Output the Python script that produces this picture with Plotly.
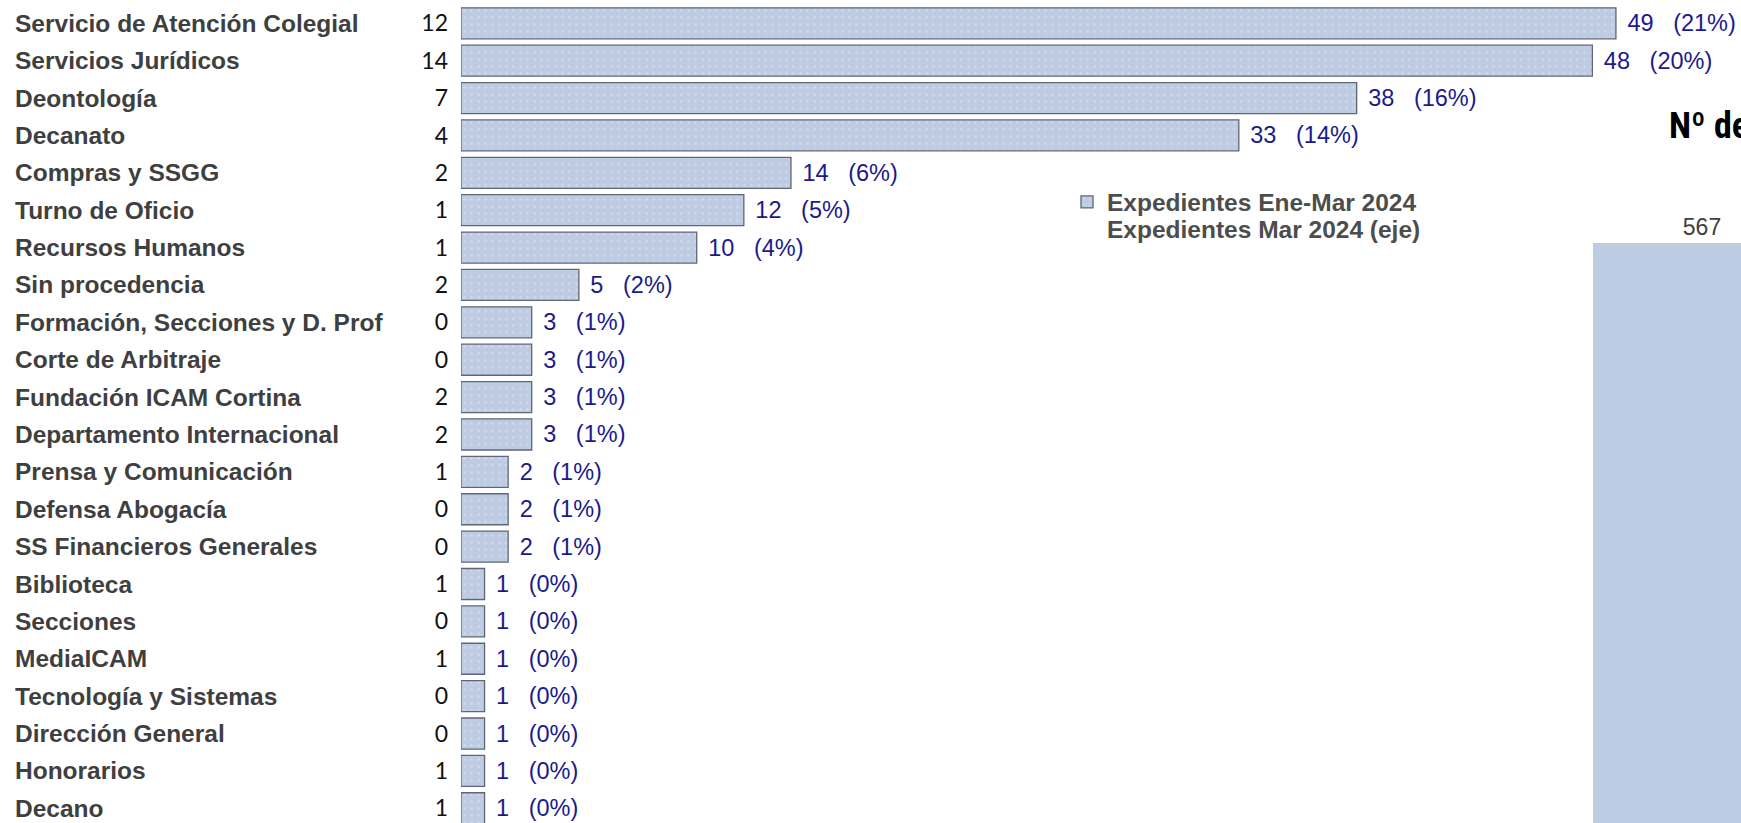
import plotly.graph_objects as go

# ---------------- data ----------------
categories = [
    "Servicio de Atención Colegial", "Servicios Jurídicos", "Deontología", "Decanato",
    "Compras y SSGG", "Turno de Oficio", "Recursos Humanos", "Sin procedencia",
    "Formación, Secciones y D. Prof", "Corte de Arbitraje", "Fundación ICAM Cortina",
    "Departamento Internacional", "Prensa y Comunicación", "Defensa Abogacía",
    "SS Financieros Generales", "Biblioteca", "Secciones", "MediaICAM",
    "Tecnología y Sistemas", "Dirección General", "Honorarios", "Decano",
]
expedientes_ene_mar = [49, 48, 38, 33, 14, 12, 10, 5, 3, 3, 3, 3, 2, 2, 2, 1, 1, 1, 1, 1, 1, 1]
expedientes_mar = [12, 14, 7, 4, 2, 1, 1, 2, 0, 0, 2, 2, 1, 0, 0, 1, 0, 1, 0, 0, 1, 1]
porcentajes = [21, 20, 16, 14, 6, 5, 4, 2, 1, 1, 1, 1, 1, 1, 1, 0, 0, 0, 0, 0, 0, 0]
total_label = ["Total"]
total_expedientes = [567]

# ---------------- layout constants ----------------
W, H = 1741, 823
NB = "\u00a0"
BAR_FILL = "#BDCCE2"
BAR_LINE = "#5F6776"

value_text = [f"{NB}\u200a{v}{NB*3}({p}%)" for v, p in zip(expedientes_ene_mar, porcentajes)]
mar_axis_text = [str(v) for v in expedientes_mar]

fig = go.Figure()

fig.add_trace(go.Bar(
    name="Expedientes Ene-Mar 2024",
    y=categories, x=expedientes_ene_mar, orientation="h",
    xaxis="x", yaxis="y", width=0.83,
    marker=dict(color=BAR_FILL, line=dict(color=BAR_LINE, width=1.3),
                pattern=dict(shape=".", fgcolor="white", bgcolor=BAR_FILL,
                             size=7, solidity=0.1, fgopacity=0.3)),
    text=value_text, textposition="outside", cliponaxis=False,
    textfont=dict(family="Liberation Sans, Arial, sans-serif", size=23.5, color="#1A1A8C"),
    legend="legend",
))

# March series: no visible bars, its values are shown on the category axis ("eje")
fig.add_trace(go.Bar(
    name="Expedientes Mar 2024 (eje)",
    y=categories, x=expedientes_mar, orientation="h",
    xaxis="x2", yaxis="y", width=0.83,
    marker=dict(color="rgba(0,0,0,0)", line=dict(width=0)),
    hoverinfo="x+y",
    legend="legend2",
))

fig.add_trace(go.Bar(
    x=total_label, y=total_expedientes, xaxis="x3", yaxis="y3", width=1,
    marker=dict(color=BAR_FILL, line=dict(width=0)),
    text=[str(v) for v in total_expedientes], textposition="outside", cliponaxis=False,
    textfont=dict(family="Liberation Sans, Arial, sans-serif", size=23, color="#404040"),
    showlegend=False,
))

px_per_unit = 23.57
x0_px = 461
row_px = 37.38
row0_center_px = 23.3
y_top = -row0_center_px / row_px
y_bottom = y_top + H / row_px

annotations = []
for c in categories:
    annotations.append(dict(
        xref="paper", x=13 / W, xanchor="left",
        yref="y", y=c, yanchor="middle",
        text=c, showarrow=False,
        font=dict(family="Liberation Sans, Arial, sans-serif", size=24.5,
                  color="#3F3F3F", weight="bold"),
    ))
annotations.append(dict(
    xref="paper", x=1667 / W, xanchor="left",
    yref="paper", y=1 - 126 / H, yanchor="middle",
    text="Nº de", showarrow=False,
    font=dict(family="Liberation Sans Narrow, Arial Narrow, Roboto Condensed, DejaVu Sans Condensed, sans-serif",
              size=36, color="#000000", weight="bold"),
))

hidden = dict(visible=False, showgrid=False, zeroline=False, showticklabels=False)

legend_font = dict(family="Liberation Sans, Arial, sans-serif", size=24.5, color="#4D4D4D", weight="bold")

fig.update_layout(
    width=W, height=H,
    margin=dict(l=0, r=0, t=0, b=0),
    paper_bgcolor="white", plot_bgcolor="rgba(0,0,0,0)",
    showlegend=True,
    xaxis=dict(domain=[x0_px / W, 1], range=[0, (W - x0_px) / px_per_unit], anchor="y", **hidden),
    xaxis2=dict(domain=[0, 452 / W], range=[100000, 0], anchor="y", **hidden),
    yaxis=dict(domain=[0, 1], type="category", categoryorder="array", categoryarray=categories,
               range=[y_bottom, y_top], anchor="x",
               showgrid=False, zeroline=False, showline=False, ticks="",
               tickmode="array", tickvals=categories, ticktext=mar_axis_text,
               tickfont=dict(family="Lato, Carlito, sans-serif", size=23, color="#111111"),
               ticklabelstandoff=12, automargin=False),
    xaxis3=dict(domain=[1593 / W, 1], type="category", range=[-0.5, 0.179], anchor="y3", **hidden),
    yaxis3=dict(domain=[0, 1], range=[0, 804.5], anchor="x3", **hidden),
    legend=dict(x=1067 / W, y=1 - 202 / H, xanchor="left", yanchor="middle",
                bgcolor="rgba(0,0,0,0)", font=legend_font),
    legend2=dict(x=1067 / W, y=1 - 229 / H, xanchor="left", yanchor="middle",
                 bgcolor="rgba(0,0,0,0)", font=legend_font),
    annotations=annotations,
)

fig.write_html("out.html", config={"displayModeBar": False},
               post_script="document.body.style.margin='0';")
